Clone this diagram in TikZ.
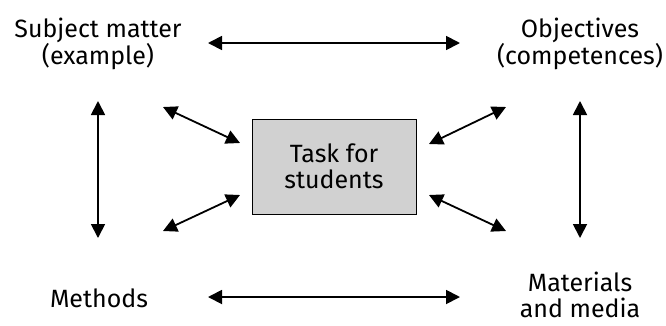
\documentclass[tikz,border=0pt]{standalone}
\usepackage{fontspec}
\setmainfont{Fira Sans}
\usetikzlibrary{arrows.meta}
\begin{document}
\begin{tikzpicture}[x=1pt,y=-1pt,
  lbl/.style={align=center,inner sep=0pt,font=\fontsize{25}{26.5}\selectfont},
  taskbox/.style={draw=black,line width=1pt,fill=black!18,minimum width=164pt,minimum height=95pt,align=center,font=\fontsize{25}{26.5}\selectfont},
  dbl/.style={line width=1.8pt,{Triangle[length=14pt,width=14pt]}-{Triangle[length=14pt,width=14pt]}}]
\useasboundingbox (0,0) rectangle (666,325);
\node[lbl] (sm) at (98,44) {Subject matter\\(example)};
\node[lbl] (ob) at (580,44) {Objectives\\(competences)};
\node[lbl] (me) at (99,298.5) {Methods};
\node[lbl] (mm) at (580,295) {Materials\\and media};
\node[taskbox] (t) at (334,166.5) {Task for\\students};
\coordinate (h1a) at (208,43); \coordinate (h1b) at (460,43);
\coordinate (h2a) at (208,297); \coordinate (h2b) at (460,297);
\coordinate (v1a) at (98,101); \coordinate (v1b) at (98,238);
\coordinate (v2a) at (580,101); \coordinate (v2b) at (580,238);
\coordinate (d1a) at (163,107); \coordinate (d1b) at (240,143);
\coordinate (d2a) at (429,144); \coordinate (d2b) at (506,107);
\coordinate (d3a) at (163,231); \coordinate (d3b) at (240,195);
\coordinate (d4a) at (429,195); \coordinate (d4b) at (506,231);
\draw[dbl] (h1a) -- (h1b);
\draw[dbl] (h2a) -- (h2b);
\draw[dbl] (v1a) -- (v1b);
\draw[dbl] (v2a) -- (v2b);
\draw[dbl] (d1a) -- (d1b);
\draw[dbl] (d2a) -- (d2b);
\draw[dbl] (d3a) -- (d3b);
\draw[dbl] (d4a) -- (d4b);
\end{tikzpicture}
\end{document}
